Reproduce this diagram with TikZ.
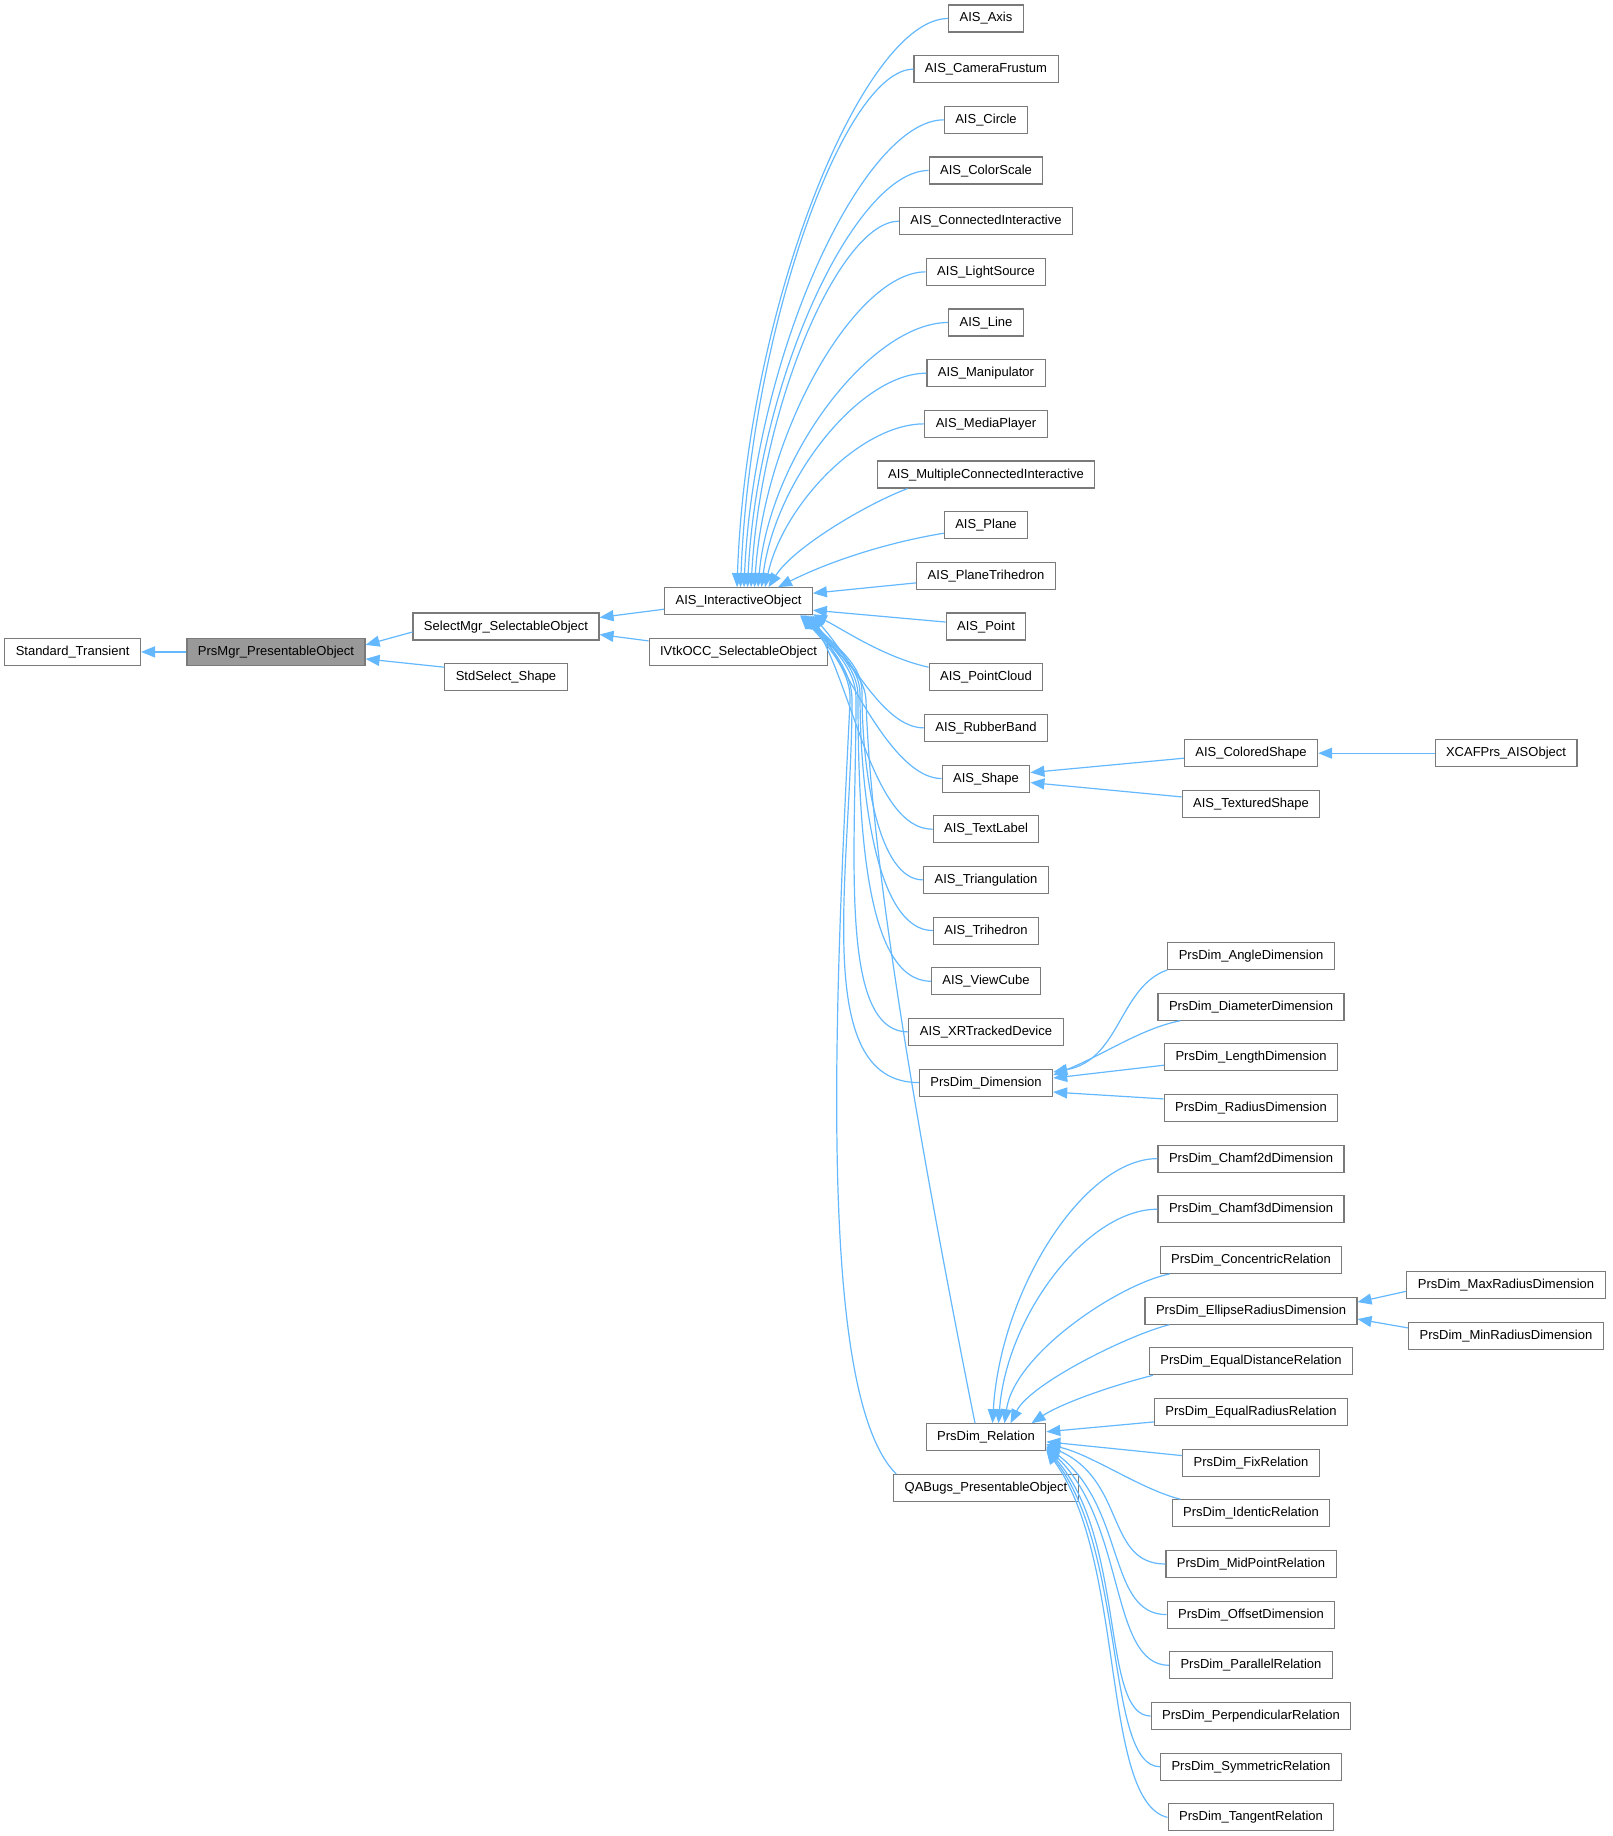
\documentclass[tikz,border=0pt]{standalone}
\usepackage{fontspec}
\setmainfont{Liberation Sans}
\usetikzlibrary{arrows.meta}
\definecolor{edgeblue}{HTML}{63B8FF}
\definecolor{boxline}{HTML}{7A7A7A}
\definecolor{rootfill}{HTML}{999999}
\tikzset{
  cls/.style={draw=boxline, fill=white, line width=1.1pt, inner xsep=11pt, inner ysep=0pt,
    minimum height=27pt, font=\fontsize{13}{15}\selectfont, text height=9.5pt, text depth=2.5pt},
  rootcls/.style={cls, fill=rootfill},
  inh/.style={draw=edgeblue, line width=1.2pt, -{Triangle[length=14pt,width=11pt]}}
}
\begin{document}
\begin{tikzpicture}[x=1pt,y=-1pt]
\useasboundingbox (0,0) rectangle (1612,1836);
% left part
\node[cls] (st) at (72.6,651.9) {Standard\_Transient};
\node[rootcls] (pm) at (276,651.9) {PrsMgr\_PresentableObject};
\node[cls] (sm) at (506,626.5) {SelectMgr\_SelectableObject};
\node[cls] (ss) at (506,677.2) {StdSelect\_Shape};
\node[cls] (io) at (738.5,601.2) {AIS\_InteractiveObject};
\node[cls] (iv) at (738.5,651.9) {IVtkOCC\_SelectableObject};
% column 5
\node[cls] (ax) at (986,18.5) {AIS\_Axis};
\node[cls] (cf) at (986,69.17) {AIS\_CameraFrustum};
\node[cls] (ci) at (986,119.84) {AIS\_Circle};
\node[cls] (cs) at (986,170.51) {AIS\_ColorScale};
\node[cls] (cn) at (986,221.18) {AIS\_ConnectedInteractive};
\node[cls] (ls) at (986,271.85) {AIS\_LightSource};
\node[cls] (ln) at (986,322.52) {AIS\_Line};
\node[cls] (mn) at (986,373.19) {AIS\_Manipulator};
\node[cls] (mp) at (986,423.86) {AIS\_MediaPlayer};
\node[cls] (mc) at (986,474.53) {AIS\_MultipleConnectedInteractive};
\node[cls] (pl) at (986,525.2) {AIS\_Plane};
\node[cls] (pt) at (986,575.87) {AIS\_PlaneTrihedron};
\node[cls] (po) at (986,626.54) {AIS\_Point};
\node[cls] (pc) at (986,677.21) {AIS\_PointCloud};
\node[cls] (rb) at (986,727.88) {AIS\_RubberBand};
\node[cls] (sh) at (986,778.55) {AIS\_Shape};
\node[cls] (tl) at (986,829.22) {AIS\_TextLabel};
\node[cls] (tr) at (986,879.89) {AIS\_Triangulation};
\node[cls] (th) at (986,930.56) {AIS\_Trihedron};
\node[cls] (vc) at (986,981.23) {AIS\_ViewCube};
\node[cls] (xr) at (986,1031.9) {AIS\_XRTrackedDevice};
\node[cls] (dm) at (986,1082.57) {PrsDim\_Dimension};
\node[cls] (rl) at (986,1437.26) {PrsDim\_Relation};
\node[cls] (qa) at (986,1487.93) {QABugs\_PresentableObject};
% column 6
\node[cls] (col) at (1251,753.2) {AIS\_ColoredShape};
\node[cls] (tex) at (1251,803.9) {AIS\_TexturedShape};
\node[cls] (ang) at (1251,955.9) {PrsDim\_AngleDimension};
\node[cls] (dia) at (1251,1006.6) {PrsDim\_DiameterDimension};
\node[cls] (len) at (1251,1057.2) {PrsDim\_LengthDimension};
\node[cls] (rad) at (1251,1107.9) {PrsDim\_RadiusDimension};
\node[cls] (c2) at (1251,1158.6) {PrsDim\_Chamf2dDimension};
\node[cls] (c3) at (1251,1209.2) {PrsDim\_Chamf3dDimension};
\node[cls] (con) at (1251,1259.9) {PrsDim\_ConcentricRelation};
\node[cls] (ell) at (1251,1310.6) {PrsDim\_EllipseRadiusDimension};
\node[cls] (eqd) at (1251,1361.3) {PrsDim\_EqualDistanceRelation};
\node[cls] (eqr) at (1251,1411.9) {PrsDim\_EqualRadiusRelation};
\node[cls] (fix) at (1251,1462.6) {PrsDim\_FixRelation};
\node[cls] (ide) at (1251,1513.3) {PrsDim\_IdenticRelation};
\node[cls] (mid) at (1251,1564.0) {PrsDim\_MidPointRelation};
\node[cls] (off) at (1251,1614.6) {PrsDim\_OffsetDimension};
\node[cls] (par) at (1251,1665.3) {PrsDim\_ParallelRelation};
\node[cls] (per) at (1251,1716.0) {PrsDim\_PerpendicularRelation};
\node[cls] (sym) at (1251,1766.7) {PrsDim\_SymmetricRelation};
\node[cls] (tan) at (1251,1817.4) {PrsDim\_TangentRelation};
% column 7
\node[cls] (xc) at (1506,753.2) {XCAFPrs\_AISObject};
\node[cls] (mxr) at (1506,1285.25) {PrsDim\_MaxRadiusDimension};
\node[cls] (mnr) at (1506,1335.92) {PrsDim\_MinRadiusDimension};

% way points of the lower bundle
\coordinate (w17) at (862,692);
\coordinate (w18) at (860,694);
\coordinate (w19) at (858,696);
\coordinate (w20) at (856,698);
\coordinate (w21) at (852,700);
\coordinate (w28) at (866,700);
\coordinate (w29) at (850,702);

% left edges
\draw[inh] (pm.west) -- (st.east);
\draw[inh] ([yshift=-5.5pt]sm.west) -- ([yshift=7pt]pm.east);
\draw[inh] ([yshift=10pt]ss.west) -- ([yshift=-7pt]pm.east);
\draw[inh] ([yshift=-8pt]io.west) -- ([yshift=9pt]sm.east);
\draw[inh] ([yshift=11pt]iv.west) -- ([yshift=-8pt]sm.east);

% upper children of InteractiveObject
\draw[inh] (ax.west) .. controls +(-84,0) and +(10,-285) .. ([xshift=-1.5pt]io.north);
\draw[inh] (cf.west) .. controls +(-69,0) and +(10,-259) .. ([xshift=2pt]io.north);
\draw[inh] (ci.west) .. controls +(-80,0) and +(10,-234) .. ([xshift=5.5pt]io.north);
\draw[inh] (cs.west) .. controls +(-73,0) and +(10,-209) .. ([xshift=9pt]io.north);
\draw[inh] (cn.west) .. controls +(-59,0) and +(10,-183) .. ([xshift=12.5pt]io.north);
\draw[inh] (ls.west) .. controls +(-69,0) and +(10,-158) .. ([xshift=16pt]io.north);
\draw[inh] (ln.west) .. controls +(-76,0) and +(12,-133) .. ([xshift=19.5pt]io.north);
\draw[inh] (mn.west) .. controls +(-67,0) and +(14,-107) .. ([xshift=23pt]io.north);
\draw[inh] (mp.west) .. controls +(-64,0) and +(18,-82) .. ([xshift=26.5pt]io.north);
\draw[inh] ([xshift=31pt]mc.south west) .. controls +(-40,15) and +(25,-40) .. ([xshift=30pt]io.north);
\draw[inh] ([yshift=-8pt]pl.west) .. controls +(-60,10) and +(50,-25) .. ([xshift=39.5pt]io.north);
\draw[inh] ([yshift=-7pt]pt.west) -- ([yshift=8pt]io.east);
\draw[inh] ([yshift=4.5pt]po.west) -- ([yshift=-9pt]io.east);
\draw[inh] ([yshift=10pt]pc.west) .. controls +(-45,-10) and +(30,15) .. ([yshift=1pt]io.south east);
% lower children
\draw[inh] (rb.west) .. controls +(-40,0) and +(40,45) .. ([xshift=73.5pt]io.south);
\draw[inh] (sh.west) .. controls +(-50,0) and +(35,50) .. ([xshift=71.5pt]io.south);
\draw[inh] (tl.west) .. controls +(-60,0) and +(45,70) .. ([xshift=69.5pt]io.south);
\draw[inh] (tr.west) .. controls +(-45,0) and +(0,80) .. (w17) .. controls +(0,-28) and +(30,32) .. ([xshift=67.5pt]io.south);
\draw[inh] (th.west) .. controls +(-55,0) and +(0,105) .. (w18) .. controls +(0,-28) and +(30,32) .. ([xshift=66.5pt]io.south);
\draw[inh] (vc.west) .. controls +(-65,0) and +(0,130) .. (w19) .. controls +(0,-28) and +(30,32) .. ([xshift=65.5pt]io.south);
\draw[inh] (xr.west) .. controls +(-70,0) and +(0,155) .. (w20) .. controls +(0,-28) and +(30,32) .. ([xshift=64.5pt]io.south);
\draw[inh] (dm.west) .. controls +(-110,0) and +(0,170) .. (w21) .. controls +(0,-28) and +(30,32) .. ([xshift=63.5pt]io.south);
\draw[inh] ([xshift=-11pt]rl.north) .. controls +(-60,-300) and +(5,160) .. (w28) .. controls +(-1,-28) and +(30,32) .. ([xshift=62.5pt]io.south);
\draw[inh] ([xshift=3pt]qa.north west) .. controls +(-80,-80) and +(-15,300) .. (w29) .. controls +(2,-28) and +(30,32) .. ([xshift=61.5pt]io.south);

% Shape children
\draw[inh] ([yshift=-5pt]col.west) -- ([yshift=6pt]sh.east);
\draw[inh] ([yshift=7pt]tex.west) -- ([yshift=-4pt]sh.east);
\draw[inh] (xc.west) -- (col.east);

% Dimension children
\draw[inh] (ang.south west) .. controls +(-48,17) and +(67,-12) .. ([yshift=10.5pt]dm.east);
\draw[inh] ([xshift=23pt]dia.south west) .. controls +(-40,8) and +(50,-20) .. ([yshift=7.5pt]dm.east);
\draw[inh] ([yshift=-8pt]len.west) -- ([yshift=4.5pt]dm.east);
\draw[inh] ([yshift=9pt]rad.west) -- ([yshift=-9.5pt]dm.east);

% Relation children
\draw[inh] (c2.west) .. controls +(-74,0) and +(8,-133) .. ([xshift=6.5pt]rl.north);
\draw[inh] (c3.west) .. controls +(-71,0) and +(8,-107) .. ([xshift=12.5pt]rl.north);
\draw[inh] ([xshift=10pt]con.south west) .. controls +(-50,10) and +(10,-70) .. ([xshift=18.5pt]rl.north);
\draw[inh] ([xshift=25pt]ell.south west) .. controls +(-40,10) and +(20,-40) .. ([xshift=24.5pt]rl.north);
\draw[inh] ([xshift=4pt]eqd.south west) .. controls +(-40,10) and +(30,-20) .. ([xshift=45.5pt]rl.north);
\draw[inh] ([yshift=-10pt]eqr.west) -- ([yshift=5.5pt]rl.east);
\draw[inh] ([yshift=7pt]fix.west) -- ([yshift=-4.5pt]rl.east);
\draw[inh] ([xshift=9pt]ide.north west) .. controls +(-40,-10) and +(45,10) .. ([yshift=-7pt]rl.east);
\draw[inh] (mid.west) .. controls +(-60,0) and +(80,35) .. ([yshift=-8pt]rl.east);
\draw[inh] (off.west) .. controls +(-60,0) and +(80,60) .. ([yshift=-9pt]rl.east);
\draw[inh] (par.west) .. controls +(-60,0) and +(80,75) .. ([yshift=-10pt]rl.east);
\draw[inh] (per.west) .. controls +(-50,0) and +(80,90) .. ([yshift=-11pt]rl.east);
\draw[inh] (sym.west) .. controls +(-55,0) and +(80,100) .. ([yshift=-12pt]rl.east);
\draw[inh] (tan.west) .. controls +(-67,-16) and +(80,110) .. ([yshift=-13pt]rl.east);

% Ellipse children
\draw[inh] ([yshift=-6pt]mxr.west) -- ([yshift=8.5pt]ell.east);
\draw[inh] ([yshift=8pt]mnr.west) -- ([yshift=-8.5pt]ell.east);
\end{tikzpicture}
\end{document}
